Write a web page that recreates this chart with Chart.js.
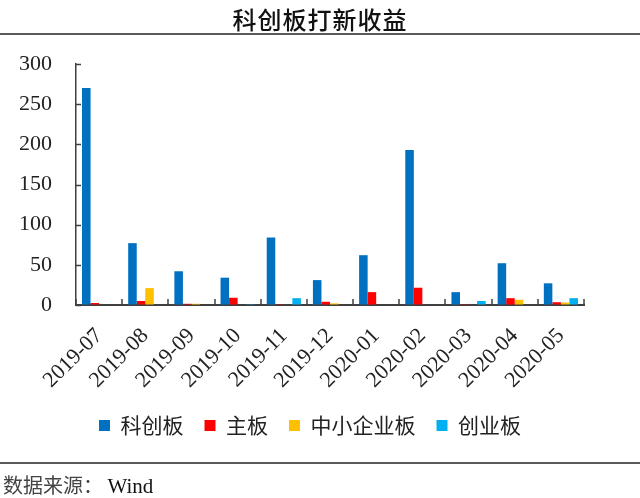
<!DOCTYPE html>
<html>
<head>
<meta charset="utf-8">
<script src="https://cdn.jsdelivr.net/npm/chart.js@4/dist/chart.umd.min.js"></script>
<style>
  html, body { margin: 0; padding: 0; background: #fff; }
  #wrap { position: relative; width: 640px; height: 498px; overflow: hidden; }
  #title { position: absolute; left: 0; top: 1px; width: 640px; text-align: center;
    font-family: "Noto Sans CJK SC", sans-serif; font-weight: 500; font-size: 24px; color: #111;
    letter-spacing: 1px; }
  .rule { position: absolute; left: 0; width: 640px; height: 2px; background: #5a5a5a; }
  #source { position: absolute; left: 3px; top: 470px; font-size: 20px; color: #444;
    font-family: "Noto Sans CJK SC", sans-serif; }
  #source span { font-family: "Liberation Serif", serif; font-size: 21px; color: #111; }
  canvas { position: absolute; left: 0; top: 0; }
</style>
</head>
<body>
<div id="wrap">
  <canvas id="chart" width="640" height="498"></canvas>
  <div id="title">科创板打新收益</div>
  <div class="rule" style="top:33px"></div>
  <div class="rule" style="top:462px"></div>
  <div id="source">数据来源：&nbsp;<span>Wind</span></div>
</div>
<script>
// 月份
const months = ['2019-07', '2019-08', '2019-09', '2019-10', '2019-11', '2019-12',
  '2020-01', '2020-02', '2020-03', '2020-04', '2020-05'];

// 打新收益（按板块）
const kcb = [270, 77, 42, 34, 84, 31, 62, 193, 16, 52, 27];
const zb = [2.5, 5, 1.5, 9, 1, 4, 16, 21.5, 1, 8.5, 3.5];
const zxb = [0, 21, 1.5, 0, 0, 2, 0, 0, 0, 6.5, 3];
const cyb = [0, 0, 0, 1, 8.5, 0, 0, 0, 5, 0, 8.5];

// y 轴刻度
const yTicks = [0, 50, 100, 150, 200, 250, 300];

// 向内的刻度线
const innerTicks = {
  id: 'innerTicks',
  afterDraw(chart) {
    const { ctx, chartArea: a, scales: { x, y } } = chart;
    ctx.save();
    ctx.strokeStyle = '#404040';
    ctx.lineWidth = 1.5;
    ctx.beginPath();
    y.ticks.forEach(t => {
      const py = Math.round(y.getPixelForValue(t.value)) + 0.5;
      ctx.moveTo(a.left, py);
      ctx.lineTo(a.left + 5, py);
    });
    const half = (x.getPixelForValue(1) - x.getPixelForValue(0)) / 2;
    for (let i = 0; i <= months.length; i++) {
      const px = Math.round(x.getPixelForValue(i) - half);
      ctx.moveTo(px, a.bottom);
      ctx.lineTo(px, a.bottom - 6);
    }
    ctx.stroke();
    ctx.restore();
  }
};

const serif = "'Liberation Serif', 'Times New Roman', serif";
const cjk = "'Noto Sans CJK SC', sans-serif";

new Chart(document.getElementById('chart'), {
  type: 'bar',
  data: {
    labels: months,
    datasets: [
      { label: '科创板', data: kcb, backgroundColor: '#0070C0' },
      { label: '主板', data: zb, backgroundColor: '#FF0000' },
      { label: '中小企业板', data: zxb, backgroundColor: '#FFC000' },
      { label: '创业板', data: cyb, backgroundColor: '#00B0F0' },
    ]
  },
  options: {
    responsive: false,
    animation: false,
    datasets: { bar: { categoryPercentage: 0.74, barPercentage: 1.0 } },
    layout: { padding: { top: 64, right: 20, bottom: 52, left: 0 } },
    plugins: {
      title: { display: false },
      tooltip: { enabled: false },
      legend: {
        position: 'bottom',
        labels: {
          boxWidth: 11, boxHeight: 11, padding: 21,
          color: '#222',
          font: { family: cjk, size: 21 }
        }
      }
    },
    scales: {
      y: {
        min: 0, max: 300,
        afterBuildTicks: s => { s.ticks = yTicks.map(v => ({ value: v })); },
        afterFit: s => { s.width = 76; },
        grid: { display: true, drawOnChartArea: false, drawTicks: false },
        border: { display: true, color: '#404040', width: 1.5 },
        ticks: { color: '#222', padding: 24, font: { family: serif, size: 22 } }
      },
      // 右侧留白（空轴）
      yr: {
        position: 'right',
        afterFit: s => { s.width = 36; },
        grid: { display: false },
        border: { display: false },
        ticks: { display: false }
      },
      x: {
        afterFit: s => { s.height = 89; },
        grid: { display: true, drawOnChartArea: false, drawTicks: false, offset: true },
        border: { display: true, color: '#404040', width: 2 },
        ticks: { color: '#222', minRotation: 45, maxRotation: 45, padding: 18,
          font: { family: serif, size: 22 } }
      }
    }
  },
  plugins: [innerTicks]
});
</script>
</body>
</html>
